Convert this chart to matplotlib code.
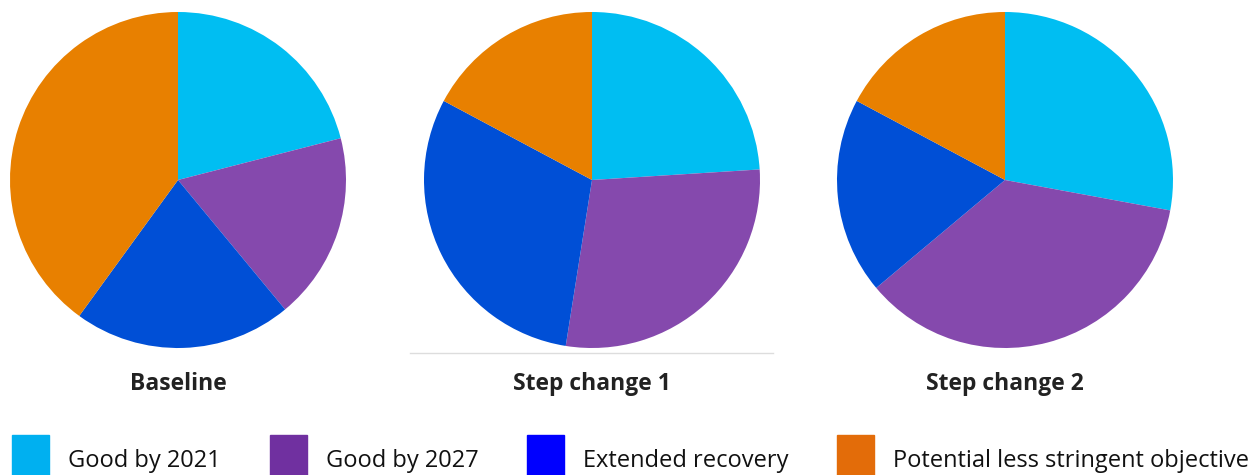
import matplotlib
matplotlib.use("Agg")
import matplotlib.pyplot as plt
from matplotlib.patches import Rectangle
from matplotlib.lines import Line2D

plt.rcParams['font.family'] = ['Open Sans', 'DejaVu Sans']

# data (percent shares)
categories = ["Good by 2021", "Good by 2027", "Extended recovery", "Potential less stringent objective"]
scenarios = ["Baseline", "Step change 1", "Step change 2"]
baseline = [21, 18, 21, 40]
step_change_1 = [24, 28.5, 30.3, 17.2]
step_change_2 = [27.9, 36, 18.9, 17.2]

pie_colors = ["#00BEF2", "#8549AD", "#004FD6", "#E88000"]
legend_colors = ["#00B0F0", "#7030A0", "#0000FF", "#E36C09"]

W, H = 1258, 475
fig = plt.figure(figsize=(W / 100, H / 100), dpi=100)

centers = [178, 592, 1005]
r = 168
cy = 180
for cx, name, vals in zip(centers, scenarios, [baseline, step_change_1, step_change_2]):
    ax = fig.add_axes([(cx - r) / W, 1 - (cy + r) / H, 2 * r / W, 2 * r / H])
    ax.pie(vals, colors=pie_colors, startangle=90, counterclock=False,
           wedgeprops=dict(linewidth=0))
    ax.set_aspect("equal")
    ax.set_xlim(-1, 1)
    ax.set_ylim(-1, 1)
    ax.axis("off")
    fig.text(cx / W, 1 - 384 / H, name, ha="center", va="center",
             fontsize=16.5, fontweight="bold", color="#222222")

# thin grey rule under the middle pie
fig.add_artist(Line2D([410 / W, 773 / W], [1 - 353 / H, 1 - 353 / H],
                      color="#DDDDDD", linewidth=1))

# legend
box_x = [12, 270, 527, 837]
for x, lab, col in zip(box_x, categories, legend_colors):
    fig.add_artist(Rectangle((x / W, 0), 37 / W, 40 / H, color=col,
                             transform=fig.transFigure))
    fig.text((x + 56) / W, 1 - 461 / H, lab, ha="left", va="center",
             fontsize=17, color="#111111")

fig.savefig("out.png", dpi=100)
